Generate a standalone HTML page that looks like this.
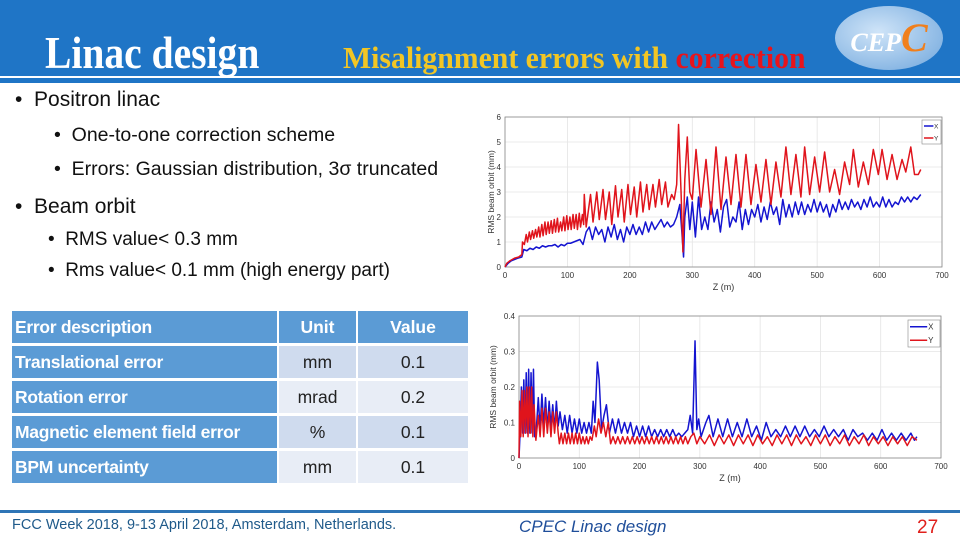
<!DOCTYPE html>
<html><head><meta charset="utf-8">
<style>
body{margin:0;width:960px;height:540px;overflow:hidden;background:#fff;position:relative;font-family:"Liberation Sans",sans-serif}
.abs{position:absolute;white-space:nowrap}
.b1{font-size:21px;color:#111}
.b2{font-size:19.5px;color:#111}
.b3{font-size:19px;color:#111}
table{position:absolute;left:10px;top:308px;border-collapse:separate;border-spacing:2px 3px;font-size:17.5px}
td{padding:0 3px;height:32px}
td.d{background:#5b9bd5;color:#fff;font-weight:bold;width:259px;letter-spacing:-0.3px}
td.h{background:#5b9bd5;color:#fff;font-weight:bold;text-align:center}
td.c{text-align:center;color:#222}
tr.o td.c{background:#cfdbee}
tr.e td.c{background:#e8edf6}
</style></head><body>
<div style="position:absolute;left:0;top:0;width:960px;height:76px;background:#1f75c6"></div>
<div style="position:absolute;left:0;top:78px;width:960px;height:5px;background:#1f75c6"></div>
<div class="abs" style="left:45px;top:28px;font:bold 46px 'Liberation Serif',serif;color:#fff;line-height:50px;transform:scaleX(0.86);transform-origin:left top">Linac design</div>
<div class="abs" style="left:343px;top:41px;font:bold 31px 'Liberation Serif',serif;color:#f2c624;line-height:34px;transform:scaleX(0.96);transform-origin:left top">Misalignment errors with <span style="color:#e8141c">correction</span></div>
<div style="position:absolute;left:835px;top:6px;width:108px;height:64px;border-radius:50%;background:radial-gradient(ellipse at 40% 40%,#cfe4f8,#6fa6dc);font:italic bold 26px 'Liberation Serif',serif;color:#fff;text-align:center;line-height:64px">CEP<span style="color:#f07f1c;font-size:40px">C</span></div>

<div class="abs b1" style="left:15px;top:88px">•&nbsp;&nbsp;Positron linac</div>
<div class="abs b2" style="left:54px;top:124px">•&nbsp;&nbsp;One-to-one correction scheme</div>
<div class="abs b2" style="left:54px;top:158px">•&nbsp;&nbsp;Errors: Gaussian distribution, 3σ truncated</div>
<div class="abs b1" style="left:15px;top:195px">•&nbsp;&nbsp;Beam orbit</div>
<div class="abs b3" style="left:48px;top:229px">•&nbsp;&nbsp;RMS value&lt; 0.3 mm</div>
<div class="abs b3" style="left:48px;top:260px">•&nbsp;&nbsp;Rms value&lt; 0.1 mm (high energy part)</div>

<table>
<tr><td class="d">Error description</td><td class="h" style="width:71px">Unit</td><td class="h" style="width:104px">Value</td></tr>
<tr class="o"><td class="d">Translational error</td><td class="c">mm</td><td class="c">0.1</td></tr>
<tr class="e"><td class="d">Rotation error</td><td class="c">mrad</td><td class="c">0.2</td></tr>
<tr class="o"><td class="d">Magnetic element field error</td><td class="c">%</td><td class="c">0.1</td></tr>
<tr class="e"><td class="d">BPM uncertainty</td><td class="c">mm</td><td class="c">0.1</td></tr>
</table>

<svg id="charts" style="position:absolute;left:0;top:0" width="960" height="540" font-family="Liberation Sans, sans-serif"></svg>

<div style="position:absolute;left:0;top:510px;width:960px;height:3px;background:#2e75b6"></div>
<div class="abs" style="left:12px;top:517px;font-size:14.5px;color:#1f5a8a">FCC Week 2018, 9-13 April 2018, Amsterdam, Netherlands.</div>
<div class="abs" style="left:519px;top:517px;font-size:17px;font-style:italic;color:#1f4e9a">CPEC Linac design</div>
<div class="abs" style="left:917px;top:517px;font-size:19px;color:#e0201c">27</div>

<script>
const topYZ=[0,3,8,15,22,27,28,31,34,36,39,41,44,46,49,51,54,56,59,61,64,66,69,71,74,76,79,81,84,86,89,91,94,96,99,101,104,106,109,111,114,116,119,121,124,126,127,130,137,141,147,151,157,161,167,171,177,181,187,191,197,201,207,211,217,221,227,231,237,241,247,251,257,261,267,271,275,278,282,285,288,292,296,300,306,314,322,330,338,346,354,362,370,378,386,394,402,410,418,426,434,442,450,458,466,474,480,488,496,504,512,520,528,536,544,552,558,566,574,582,590,598,604,612,620,628,636,642,650,656,662,666];
const topYV=[0,0.15,0.25,0.35,0.4,0.5,1.0,0.9,1.3,1.0,1.4,1.1,1.45,1.15,1.5,1.2,1.6,1.2,1.7,1.25,1.8,1.3,1.8,1.35,1.85,1.35,1.9,1.4,1.95,1.4,1.8,1.45,2.0,1.45,2.05,1.5,2.0,1.5,2.1,1.55,2.1,1.5,2.15,1.6,2.1,1.7,2.9,1.6,2.9,1.8,3.0,1.9,3.1,1.9,3.0,1.7,3.25,2.0,3.1,1.8,3.3,2.1,3.2,2.0,3.4,2.2,3.3,2.3,3.3,2.4,3.5,2.5,3.4,2.4,2.9,2.7,3.3,5.7,3.0,0.6,3.5,5.2,3.0,2.7,4.7,2.4,4.3,2.1,4.8,2.3,4.4,2.5,4.5,2.4,4.5,2.5,4.1,2.6,4.3,2.5,4.2,2.8,4.8,2.9,4.5,2.8,4.8,2.9,4.4,3.0,4.6,3.0,3.9,2.9,4.2,3.3,4.7,3.2,4.2,3.3,4.7,3.7,4.7,3.5,4.5,3.5,4.3,3.8,4.8,3.7,3.7,3.9];
const topXZ=[0,5,10,20,27,30,35,40,45,50,55,60,65,70,75,80,85,90,95,100,105,110,115,120,125,130,135,140,145,150,155,160,165,170,175,180,185,190,195,200,205,210,215,220,225,230,235,240,245,250,255,260,265,270,275,280,283,286,288,292,296,300,305,310,315,320,325,330,335,340,345,350,355,360,365,370,375,380,385,390,395,400,405,410,415,420,425,430,435,440,445,450,455,460,465,470,475,480,485,490,495,500,505,510,515,520,525,530,535,540,545,550,555,560,565,570,575,580,585,590,595,600,605,610,615,620,625,630,635,640,645,650,655,660,666];
const topXV=[0,0.15,0.25,0.35,0.4,0.7,0.65,0.75,0.7,0.8,0.75,0.85,0.8,0.85,0.85,0.9,0.8,0.9,0.85,0.95,0.95,1.0,1.05,1.1,0.9,1.4,1.6,1.1,1.6,1.3,1.5,1.0,1.6,1.2,1.7,1.1,1.5,1.0,1.6,1.3,1.7,1.3,1.6,1.3,1.8,1.4,1.8,1.5,1.7,1.9,1.6,1.8,1.6,1.7,2.0,2.5,1.5,0.4,2.0,2.8,1.5,2.6,1.2,2.8,1.5,2.0,1.5,2.6,1.8,2.3,1.4,2.4,2.7,1.6,2.0,1.8,2.6,1.5,2.3,1.7,2.3,2.0,2.5,1.8,2.4,1.9,2.6,2.1,2.4,1.7,2.7,2.0,2.5,2.0,2.6,2.1,2.6,2.1,2.5,2.2,2.7,2.2,2.6,2.2,2.5,2.0,2.5,2.2,2.7,2.3,2.6,2.3,2.7,2.4,2.6,2.3,2.7,2.4,2.8,2.4,2.6,2.4,2.8,2.4,2.7,2.4,2.6,2.5,2.8,2.6,2.8,2.6,2.8,2.7,2.9];
const botXZ=[0,2,4,6,8,10,12,14,16,18,20,22,24,26,28,32,35,38,41,44,47,50,53,56,59,62,65,68,72,76,80,84,88,92,96,100,104,108,112,116,120,123,126,130,133,137,141,145,150,155,160,165,170,175,180,185,190,195,200,205,210,215,220,225,230,235,240,245,250,255,260,265,270,275,280,284,288,292,295,298,302,310,315,322,330,338,346,354,362,370,378,386,394,402,410,418,426,434,442,450,458,466,474,482,490,498,506,514,522,530,538,546,554,562,570,578,586,594,602,610,618,626,634,642,650,656,660];
const botXV=[0,0.08,0.2,0.07,0.22,0.07,0.24,0.07,0.25,0.07,0.24,0.07,0.25,0.06,0.06,0.17,0.08,0.18,0.09,0.17,0.08,0.16,0.09,0.15,0.08,0.16,0.09,0.13,0.08,0.12,0.07,0.12,0.07,0.11,0.07,0.11,0.07,0.1,0.07,0.1,0.07,0.16,0.1,0.27,0.22,0.08,0.12,0.15,0.07,0.11,0.07,0.11,0.07,0.1,0.07,0.1,0.06,0.09,0.06,0.09,0.06,0.09,0.06,0.08,0.06,0.08,0.06,0.08,0.06,0.08,0.06,0.07,0.06,0.07,0.08,0.12,0.07,0.33,0.08,0.11,0.06,0.1,0.12,0.06,0.11,0.06,0.11,0.06,0.1,0.06,0.11,0.06,0.09,0.05,0.1,0.06,0.08,0.06,0.09,0.06,0.09,0.06,0.09,0.06,0.08,0.06,0.09,0.06,0.08,0.06,0.08,0.05,0.08,0.06,0.07,0.05,0.07,0.05,0.08,0.05,0.07,0.05,0.07,0.05,0.07,0.05,0.06];
const botYZ=[0,1,3,5,7,9,11,13,15,17,19,21,23,25,28,32,35,38,41,44,47,50,53,56,59,62,65,67,70,73,76,79,82,85,88,91,94,97,100,103,106,109,112,115,118,121,125,128,132,136,140,144,148,152,156,160,164,168,172,176,180,184,188,192,196,200,204,208,212,216,220,224,228,232,236,240,244,248,252,256,260,264,268,272,276,280,285,290,295,300,308,316,324,332,340,348,356,364,372,380,388,396,404,412,420,428,436,444,452,460,468,476,484,492,500,508,516,524,532,540,548,556,564,572,580,588,596,604,612,620,628,636,644,652,660];
const botYV=[0,0.16,0.06,0.19,0.06,0.19,0.07,0.2,0.06,0.2,0.07,0.2,0.06,0.15,0.05,0.12,0.06,0.14,0.06,0.14,0.07,0.13,0.06,0.13,0.07,0.13,0.07,0.04,0.07,0.04,0.07,0.04,0.07,0.04,0.07,0.04,0.07,0.04,0.07,0.04,0.06,0.04,0.06,0.04,0.06,0.05,0.09,0.06,0.11,0.07,0.1,0.06,0.1,0.04,0.06,0.04,0.06,0.04,0.06,0.04,0.06,0.04,0.06,0.04,0.06,0.04,0.06,0.04,0.06,0.04,0.06,0.04,0.06,0.04,0.06,0.04,0.06,0.04,0.06,0.04,0.06,0.04,0.06,0.04,0.06,0.04,0.06,0.07,0.04,0.06,0.04,0.065,0.035,0.065,0.04,0.065,0.035,0.065,0.04,0.065,0.035,0.065,0.04,0.06,0.035,0.065,0.04,0.065,0.035,0.065,0.04,0.06,0.035,0.065,0.04,0.065,0.035,0.06,0.04,0.065,0.035,0.06,0.04,0.065,0.035,0.06,0.04,0.06,0.035,0.06,0.04,0.06,0.035,0.06,0.05];
const xTicks=[0,100,200,300,400,500,600,700];
const topYTicks=[0,1,2,3,4,5,6];
const botYTicks=[0,0.1,0.2,0.3,0.4];
const botYTickLabels=["0","0.1","0.2","0.3","0.4"];

const NS="http://www.w3.org/2000/svg";
const svg=document.getElementById('charts');
function mk(tag,attrs,parent){const e=document.createElementNS(NS,tag);for(const k in attrs)e.setAttribute(k,attrs[k]);(parent||svg).appendChild(e);return e;}

function chart(name,L,R,T,B,ymax,yTicks,yLabels,series,legend){
  const g=mk('g',{});
  
  
  const sx=z=>L+(z/700)*(R-L), sy=v=>B-(v/ymax)*(B-T);
  xTicks.forEach(t=>{
    const ln=mk('line',{x1:sx(t),x2:sx(t),y1:T,y2:B,stroke:'#e4e4e4','stroke-width':0.8},g);
    
    
    const tx=mk('text',{x:sx(t),y:B+11,'font-size':8,fill:'#333','text-anchor':'middle'},g);
    
    
    tx.textContent=t;
  });
  yTicks.forEach((t,i)=>{
    const ln=mk('line',{x1:L,x2:R,y1:sy(t),y2:sy(t),stroke:'#e4e4e4','stroke-width':0.8},g);
    
    
    const tx=mk('text',{x:L-4,y:sy(t)+3,'font-size':8,fill:'#333','text-anchor':'end'},g);
    
    
    tx.textContent=yLabels[i];
  });
  const fr=mk('rect',{x:L,y:T,width:R-L,height:B-T,fill:'none',stroke:'#888','stroke-width':0.8},g);
  
  
  series.forEach(s=>{
    const p=mk('polyline',{points:s.z.map((z,i)=>sx(z)+','+sy(s.v[i])).join(' '),fill:'none',stroke:s.c,'stroke-width':1.5,'stroke-linejoin':'round'},g);
    
    
  });
  const xl=mk('text',{x:(L+R)/2,y:B+23,'font-size':9,fill:'#333','text-anchor':'middle'},g);
  
  
  xl.textContent='Z (m)';
  const yl=mk('text',{x:0,y:0,'font-size':8.5,fill:'#333','text-anchor':'middle',transform:`translate(${legend.yx},${(T+B)/2}) rotate(-90)`},g);
  
  
  yl.textContent=legend.yt;
  const lg=mk('g',{},g);
  
  
  mk('rect',{x:legend.x,y:legend.y,width:legend.w,height:legend.h,fill:'#fff',stroke:'#888','stroke-width':0.6},lg);
  series.forEach((s,i)=>{
    const yy=legend.y+legend.h*(i+0.5)/2;
    mk('line',{x1:legend.x+2,x2:legend.x+legend.w*0.6,y1:yy,y2:yy,stroke:s.c,'stroke-width':1.5},lg);
    const t=mk('text',{x:legend.x+legend.w*0.63,y:yy+2.5,'font-size':legend.fs,fill:'#333'},lg);
    
    
    t.textContent=s.l;
  });
}
chart('top-orbit-chart',505,942,117,267,6,topYTicks,topYTicks.map(String),
  [{z:topXZ,v:topXV,c:'#1414d0',n:'series-x-top',l:'X'},{z:topYZ,v:topYV,c:'#e0141c',n:'series-y-top',l:'Y'}],
  {x:922,y:120,w:19,h:24,fs:6.5,yx:494,yt:'RMS beam orbit (mm)'});
chart('bottom-orbit-chart',519,941,316,458,0.4,botYTicks,botYTickLabels,
  [{z:botXZ,v:botXV,c:'#1414d0',n:'series-x-bottom',l:'X'},{z:botYZ,v:botYV,c:'#e0141c',n:'series-y-bottom',l:'Y'}],
  {x:908,y:320,w:32,h:27,fs:8,yx:496,yt:'RMS beam orbit  (mm)'});
</script>
</body></html>
